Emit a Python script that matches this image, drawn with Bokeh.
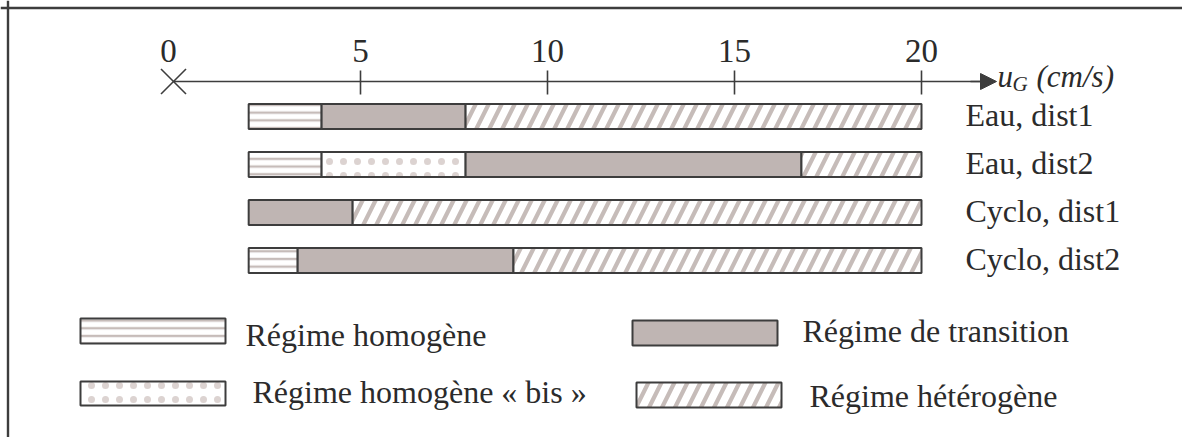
from bokeh.plotting import figure
from bokeh.models import Range1d, Span, Arrow, NormalHead
from bokeh.core.properties import value
from bokeh.embed import file_html
from bokeh.resources import INLINE

# ---------------- data ----------------
rows = ["Eau, dist1", "Eau, dist2", "Cyclo, dist1", "Cyclo, dist2"]
regimes = ["Régime homogène", "Régime homogène « bis »",
           "Régime de transition", "Régime hétérogène"]
tick_values = [0, 5, 10, 15, 20]
tick_labels = ["0", "5", "10", "15", "20"]
axis_title = ["u", "G", "(cm/s)"]

u_start = [2.01, 2.01, 2.01, 2.01]
end_homogene = [3.96, 3.96, 2.01, 3.32]
end_homogene_bis = [3.96, 7.81, 2.01, 3.32]
end_transition = [7.81, 16.79, 4.79, 9.09]
end_heterogene = [20, 20, 20, 20]

# ---------------- layout helpers (screen px -> data) ----------------
W, H = 1182, 437
X0, XS = 173.0, 37.4       # screen x of u=0, px per cm/s
Y0, YS = 116.0, 48.0       # screen y of first row, px per row

def sx(px):
    return (px - X0) / XS

def sy(py):
    return (py - Y0) / YS

def base(py, size):
    # visual baseline correction for the text glyph
    return sy(py - 0.37 * size)

DARK = "#3d3d3d"
TXT = "#2b2b2b"
HATCH = "#c6bcb9"
FONT = value("Liberation Serif")

styles = [
    dict(fill_color="white", hatch_pattern="-", hatch_color=HATCH, hatch_scale=7.7, hatch_weight=2.4),
    dict(fill_color="white", hatch_pattern=".", hatch_color="#dcd3d1", hatch_scale=14, hatch_weight=0.6),
    dict(fill_color="#bfb5b3"),
    dict(fill_color="white", hatch_pattern="/", hatch_color=HATCH, hatch_scale=26, hatch_weight=4.2),
]

p = figure(width=W, height=H, output_backend="svg", toolbar_location=None,
           x_range=Range1d(sx(0), sx(W)), y_range=Range1d(sy(H), sy(0)),
           min_border=0, outline_line_color=None, background_fill_color="white",
           border_fill_color="white")
p.axis.visible = False
p.grid.visible = False

# frame (top and left lines)
p.add_layout(Span(location=sx(7.5), dimension="height", line_color=DARK, line_width=2.4))
p.add_layout(Span(location=sy(7.5), dimension="width", line_color=DARK, line_width=2.4))

# ---------------- bars ----------------
bounds = [u_start, end_homogene, end_homogene_bis, end_transition, end_heterogene]
bar_h = 25 / YS
for k in range(4):
    lefts, rights, ys = [], [], []
    for i in range(len(rows)):
        l, r = bounds[k][i], bounds[k + 1][i]
        if r > l:
            lefts.append(l)
            rights.append(r)
            ys.append(i)
    p.hbar(y=ys, left=lefts, right=rights, height=bar_h,
           line_color=DARK, line_width=2, **styles[k])

# row labels
p.text(x=[sx(965)] * len(rows), y=[i + base(126, 32) - sy(Y0) for i in range(len(rows))],
       text=rows, text_font=FONT, text_font_size="32px", text_color=TXT,
       text_baseline="alphabetic", text_align="left")

# ---------------- axis ----------------
ya = sy(81)
p.segment(x0=[0], y0=[ya], x1=[sx(985)], y1=[ya], line_color=DARK, line_width=1.6)
p.add_layout(Arrow(end=NormalHead(size=16, fill_color=DARK, line_color=DARK),
                   x_start=sx(970), y_start=ya, x_end=sx(996), y_end=ya,
                   line_color=DARK, line_width=1.6))
tv = tick_values[1:]
p.segment(x0=tv, y0=[sy(70)] * len(tv), x1=tv, y1=[sy(94)] * len(tv),
          line_color=DARK, line_width=1.6)
# cross at origin
d = 12.5
p.segment(x0=[sx(X0 - d), sx(X0 - d)], y0=[sy(81 - d), sy(81 + d)],
          x1=[sx(X0 + d), sx(X0 + d)], y1=[sy(81 + d), sy(81 - d)],
          line_color=DARK, line_width=1.6)
p.text(x=[v - 5 / XS if v == 0 else v for v in tick_values], y=[base(63, 33)] * len(tick_values),
       text=tick_labels, text_font=FONT, text_font_size="33px", text_color=TXT,
       text_align="center", text_baseline="alphabetic")

# axis title u_G (cm/s)
p.text(x=[sx(997)], y=[base(87, 31)], text=[axis_title[0]], text_font=FONT,
       text_font_size="31px", text_font_style="italic", text_color=TXT,
       text_baseline="alphabetic")
p.text(x=[sx(1012)], y=[base(91, 21)], text=[axis_title[1]], text_font=FONT,
       text_font_size="21px", text_font_style="italic", text_color=TXT,
       text_baseline="alphabetic")
p.text(x=[sx(1036)], y=[base(87, 31)], text=[axis_title[2]], text_font=FONT,
       text_font_size="31px", text_font_style="italic", text_color=TXT,
       text_baseline="alphabetic")

# ---------------- legend ----------------
leg_boxes = [(80, 225, 318, 343), (80, 225, 381, 405), (632, 777, 320, 345), (636, 781, 382, 407)]
leg_text = [(245, 346), (252, 403), (802, 342), (809, 407)]
for k in range(4):
    l, r, t, b = leg_boxes[k]
    p.quad(left=[sx(l)], right=[sx(r)], top=[sy(t)], bottom=[sy(b)],
           line_color=DARK, line_width=2, **styles[k])
p.text(x=[sx(t[0]) for t in leg_text], y=[base(t[1], 32) for t in leg_text], text=regimes,
       text_font=FONT, text_font_size="32px", text_color=TXT,
       text_baseline="alphabetic", text_align="left")

open("out.html", "w").write(file_html(p, INLINE))
